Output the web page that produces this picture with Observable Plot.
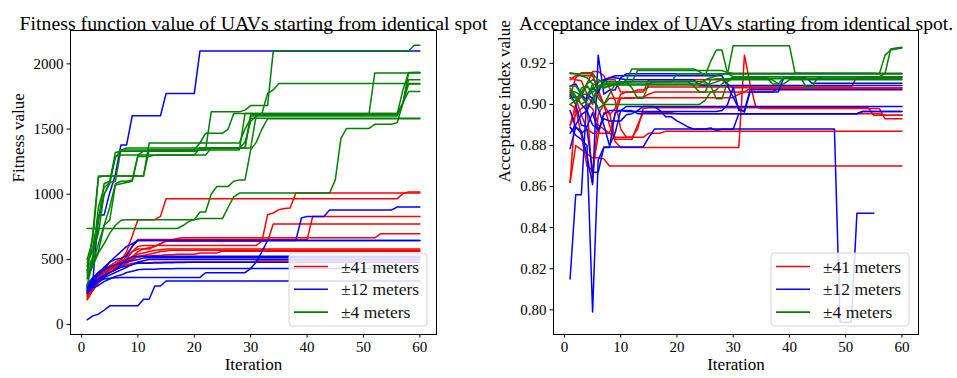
<!DOCTYPE html>
<html><head><meta charset="utf-8">
<script src="https://cdn.jsdelivr.net/npm/d3@7"></script>
<script src="https://cdn.jsdelivr.net/npm/@observablehq/plot@0.6"></script>
<style>
body{margin:0;background:#fff;}
#wrap{position:relative;width:957px;height:378px;display:flex;}
#wrap svg{overflow:visible;}
</style></head>
<body><div id="wrap"></div>
<script>
const iterations = [1,2,3,4,5,6,7,8,9,10,11,12,13,14,15,16,17,18,19,20,21,22,23,24,25,26,27,28,29,30,31,32,33,34,35,36,37,38,39,40,41,42,43,44,45,46,47,48,49,50,51,52,53,54,55,56,57,58,59,60];
const legendLabels = ["\u00b141 meters", "\u00b112 meters", "\u00b14 meters"];
const xTicks = [0,10,20,30,40,50,60];
const fitnessTicks = [0,500,1000,1500,2000];
const acceptTicks = [0.80,0.82,0.84,0.86,0.88,0.90,0.92];

// ---------- Fitness value (left) ----------
const fitness41 = [
[220,290,360,400,430,460,490,560,680,805, 805,805,805,830,966,966,966,966,966,966, 966,966,966,966,966,966,966,966,966,966, 966,966,966,966,966,966,966,966,966,966, 966,966,966,966,966,966,966,966,966,966, 966,966,966,966,966,966,1005,1017,1017,1017],
[250,330,390,420,440,460,480,520,560,600, 607,607,607,607,607,607,607,607,607,607, 607,607,607,607,607,607,607,607,607,607, 607,640,843,856,882,890,895,1009,1009,1009, 1009,1009,1009,1009,1009,1009,1009,1009,1009,1009, 1009,1009,1009,1009,1009,1009,1009,1009,1009,1009],
[230,300,360,410,450,480,500,540,600,652, 652,652,652,652,652,652,652,652,652,652, 652,652,652,652,652,652,652,652,652,652, 652,652,652,652,652,652,652,652,652,652, 830,830,830,830,830,830,830,830,830,830, 830,830,830,830,830,830,830,830,830,830],
[240,310,350,400,430,450,470,500,560,580, 580,590,600,620,640,640,640,640,640,640, 640,640,640,640,640,640,640,640,640,640, 640,640,640,772,772,772,772,772,772,772, 772,772,772,772,772,772,772,772,772,772, 772,772,772,772,772,772,772,772,772,772],
[200,270,330,380,420,440,460,480,520,560, 580,580,600,620,640,650,660,666,666,666, 666,666,666,666,666,666,666,666,666,666, 666,666,666,666,666,666,666,666,666,666, 666,666,666,666,666,666,666,666,666,666, 666,666,696,696,696,696,696,696,696,696],
[210,280,340,400,420,440,460,490,520,540, 550,560,570,575,580,580,580,580,580,580, 580,580,580,580,580,580,580,580,580,580, 580,580,580,580,580,580,580,580,580,580, 580,580,580,580,580,580,580,580,580,580, 580,580,580,580,580,580,580,580,580,580],
[190,260,320,360,400,430,450,470,500,520, 530,540,550,560,565,570,570,570,570,570, 570,570,570,570,570,570,570,570,570,570, 570,570,570,570,570,570,570,570,570,570, 570,570,570,570,570,570,570,570,570,570, 570,570,570,570,570,570,570,570,570,570],
[260,330,380,410,430,450,470,480,500,520, 525,525,530,530,535,535,540,540,540,540, 550,550,550,550,563,563,563,563,563,563, 563,563,563,563,563,563,563,563,563,563, 563,563,563,563,563,563,563,563,563,563, 563,563,563,563,563,563,563,563,563,563],
[240,310,360,400,420,440,450,460,470,475, 475,475,478,478,480,480,480,480,480,480, 480,480,480,480,480,480,480,480,480,480, 487,487,487,487,487,487,487,487,487,487, 487,487,487,487,487,487,487,487,487,487, 487,487,487,487,487,487,487,487,487,487],
[280,350,400,430,450,460,480,500,510,520, 520,520,520,520,520,520,520,520,520,520, 520,520,520,520,520,520,520,520,520,520, 520,520,520,520,520,520,520,520,520,520, 520,520,520,520,520,520,520,520,520,520, 520,520,520,520,520,520,520,520,520,520]
];
const fitness12 = [
[290,330,840,840,1010,1150,1378,1378,1602,1602, 1602,1602,1602,1602,1772,1772,1772,1772,1772,1772, 2098,2098,2098,2098,2098,2098,2098,2098,2098,2098, 2098,2098,2098,2098,2098,2098,2098,2098,2098,2098, 2098,2098,2098,2098,2098,2098,2098,2098,2098,2098, 2098,2098,2098,2098,2098,2098,2098,2098,2098,2098],
[37,67,80,110,144,144,144,144,144,144, 195,195,296,296,334,334,334,334,334,334, 334,334,334,334,334,334,334,334,334,334, 334,334,334,334,334,334,334,334,334,334, 334,334,334,334,334,334,334,334,334,334, 334,334,334,334,334,334,334,334,334,334],
[280,320,380,420,480,520,560,600,620,645, 645,645,645,645,645,645,645,645,645,645, 645,645,645,645,645,645,645,645,645,645, 645,645,645,645,645,645,645,645,818,830, 830,830,830,880,880,880,880,880,880,880, 880,880,880,880,880,902,902,902,902,902],
[300,340,400,440,480,500,510,525,600,645, 645,645,645,645,645,645,645,645,645,645, 645,645,645,645,645,645,645,645,645,645, 645,645,645,645,645,645,645,645,645,645, 645,645,645,645,645,645,645,645,645,645, 645,645,645,645,645,645,645,645,645,645],
[260,300,330,350,355,360,362,362,362,362, 362,362,362,362,362,362,362,362,362,362, 362,398,398,398,398,398,398,398,398,430, 480,560,645,645,645,645,645,645,645,645, 645,645,645,645,645,645,645,645,645,645, 645,645,645,645,645,645,645,645,645,645],
[270,310,350,380,400,420,460,500,520,525, 525,525,525,525,525,525,525,525,525,525, 525,525,525,525,525,525,525,525,525,525, 525,525,525,525,525,525,525,525,525,525, 525,525,525,525,525,525,525,525,525,525, 525,525,525,525,525,525,525,525,525,525],
[250,290,330,360,380,400,420,440,460,480, 490,500,500,500,500,500,500,500,500,500, 500,500,500,500,500,500,500,500,500,500, 500,500,500,500,500,500,500,500,500,500, 500,500,500,500,500,500,500,500,500,500, 500,500,500,500,500,500,500,500,500,500],
[290,320,350,370,400,420,440,450,460,470, 470,470,472,472,475,475,477,477,479,479, 479,479,479,479,479,479,479,479,479,479, 479,479,479,479,479,479,479,479,479,479, 479,479,479,479,479,479,479,479,479,479, 479,479,479,479,479,479,479,479,479,479],
[240,280,300,330,350,370,380,400,410,420, 425,425,425,428,428,428,430,430,430,430, 430,430,430,430,430,430,430,430,430,430, 430,430,430,430,430,430,430,430,430,430, 430,430,430,430,430,430,430,430,430,430, 430,430,430,430,430,430,430,430,430,430],
[310,360,400,420,440,460,470,480,490,500, 510,513,513,513,513,513,513,513,513,513, 513,513,513,513,513,513,513,513,513,513, 513,513,513,513,513,513,513,513,513,513, 513,513,513,513,513,513,513,513,513,513, 513,513,513,513,513,513,513,513,513,513]
];
const fitness4 = [
[480,560,700,1000,1090,1100,1340,1340,1340,1340, 1340,1340,1340,1340,1340,1340,1340,1340,1340,1340, 1340,1340,1632,1632,1632,1632,1632,1632,1645,1680, 1680,1680,1680,2098,2098,2098,2098,2098,2098,2098, 2098,2098,2098,2098,2098,2098,2098,2098,2098,2098, 2098,2098,2098,2098,2098,2098,2098,2098,2143,2143],
[400,700,1140,1140,1140,1140,1140,1140,1140,1140, 1140,1393,1393,1393,1393,1393,1393,1393,1393,1393, 1393,1467,1467,1467,1467,1500,1620,1620,1620,1620, 1620,1620,1620,1620,1620,1620,1620,1620,1620,1620, 1620,1620,1620,1620,1620,1620,1620,1620,1620,1620, 1620,1620,1620,1620,1620,1620,1800,1933,1933,1933],
[450,600,800,1080,1100,1290,1300,1300,1300,1300, 1300,1300,1300,1300,1300,1300,1300,1300,1300,1300, 1355,1355,1355,1355,1355,1355,1355,1355,1355,1610, 1610,1610,1610,1610,1610,1610,1610,1610,1610,1610, 1610,1610,1610,1610,1610,1610,1610,1610,1610,1610, 1620,1930,1930,1930,1930,1930,1930,1930,1930,1930],
[420,520,900,1050,1090,1320,1330,1330,1330,1330, 1330,1330,1330,1330,1330,1330,1330,1330,1330,1330, 1340,1350,1350,1350,1350,1350,1350,1350,1400,1560, 1600,1620,1773,1800,1849,1849,1849,1849,1849,1849, 1849,1849,1849,1849,1849,1849,1849,1849,1849,1849, 1849,1849,1849,1849,1849,1849,1849,1849,1849,1849],
[380,500,800,1000,1080,1280,1340,1355,1355,1355, 1355,1355,1355,1355,1355,1355,1355,1355,1355,1355, 1355,1355,1355,1355,1355,1355,1355,1355,1355,1600, 1600,1600,1600,1600,1600,1600,1600,1600,1600,1600, 1600,1600,1600,1600,1600,1600,1600,1600,1600,1600, 1600,1600,1600,1600,1600,1600,1700,1879,1879,1879],
[737,737,737,737,737,737,737,737,737,737, 737,737,737,737,737,737,737,760,790,805, 813,813,813,813,813,900,980,1009,1009,1009, 1009,1009,1009,1009,1009,1009,1009,1009,1009,1009, 1009,1009,1009,1009,1110,1429,1505,1505,1505,1505, 1505,1536,1536,1536,1536,1550,1700,1788,1788,1788],
[350,450,550,620,700,760,800,805,805,805, 805,805,805,805,805,805,805,805,805,805, 864,864,1000,1060,1060,1060,1100,1110,1110,1340, 1400,1500,1579,1579,1579,1579,1579,1579,1579,1579, 1579,1579,1579,1579,1579,1579,1579,1579,1579,1579, 1579,1579,1579,1579,1579,1579,1579,1579,1579,1579],
[500,650,1130,1140,1140,1140,1140,1140,1140,1140, 1140,1340,1340,1340,1340,1340,1340,1340,1340,1343, 1393,1393,1393,1393,1393,1393,1393,1393,1500,1582, 1582,1582,1582,1582,1582,1582,1582,1582,1582,1582, 1582,1582,1582,1582,1582,1582,1582,1582,1582,1582, 1582,1582,1582,1582,1582,1582,1582,1582,1582,1582],
[360,470,620,760,900,1080,1100,1100,1110,1300, 1330,1330,1330,1330,1330,1330,1330,1330,1330,1330, 1340,1340,1340,1340,1340,1340,1340,1340,1620,1620, 1620,1620,1620,1620,1620,1620,1620,1620,1620,1620, 1620,1620,1620,1620,1620,1620,1620,1620,1620,1620, 1620,1620,1620,1620,1620,1620,1700,1930,1933,1933],
[300,480,560,760,800,1070,1080,1090,1100,1290, 1290,1290,1300,1300,1300,1300,1300,1300,1300,1300, 1300,1300,1355,1355,1355,1355,1355,1355,1355,1355, 1610,1610,1610,1610,1610,1610,1610,1610,1610,1610, 1610,1610,1610,1610,1610,1610,1610,1610,1610,1610, 1610,1610,1610,1610,1610,1610,1700,1846,1846,1846]
];

// ---------- Acceptance index (right) ----------
const accept41 = [
[0.862,0.880,0.878,0.876,0.874,0.874,0.8735,0.870,0.870,0.870, 0.870,0.870,0.870,0.870,0.870,0.870,0.870,0.870,0.870,0.870, 0.870,0.870,0.870,0.870,0.870,0.870,0.870,0.870,0.870,0.870, 0.870,0.870,0.870,0.870,0.870,0.870,0.870,0.870,0.870,0.870, 0.870,0.870,0.870,0.870,0.870,0.870,0.870,0.870,0.870,0.870, 0.870,0.870,0.870,0.870,0.870,0.870,0.870,0.870,0.870,0.870],
[0.904,0.913,0.9154,0.9154,0.9154,0.905,0.900,0.890,0.882,0.879, 0.879,0.879,0.879,0.879,0.879,0.879,0.879,0.879,0.879,0.879, 0.879,0.879,0.879,0.879,0.879,0.879,0.879,0.879,0.879,0.879, 0.879,0.924,0.910,0.899,0.898,0.898,0.898,0.898,0.898,0.898, 0.898,0.898,0.898,0.898,0.898,0.898,0.898,0.898,0.898,0.898, 0.898,0.898,0.898,0.898,0.898,0.898,0.893,0.893,0.893,0.893],
[0.890,0.895,0.898,0.900,0.898,0.890,0.888,0.886,0.884,0.884, 0.884,0.884,0.884,0.884,0.886,0.886,0.886,0.887,0.887,0.887, 0.887,0.887,0.887,0.887,0.887,0.887,0.887,0.887,0.887,0.887, 0.887,0.887,0.887,0.887,0.887,0.887,0.887,0.887,0.887,0.887, 0.887,0.887,0.887,0.887,0.887,0.887,0.887,0.887,0.887,0.887, 0.887,0.887,0.887,0.887,0.887,0.887,0.887,0.887,0.887,0.887],
[0.912,0.914,0.914,0.914,0.914,0.907,0.900,0.895,0.898,0.905, 0.906,0.906,0.907,0.907,0.9085,0.9085,0.9085,0.9085,0.9085,0.9085, 0.9085,0.9085,0.9085,0.9085,0.9085,0.9085,0.9085,0.9085,0.9085,0.9085, 0.9085,0.9085,0.9085,0.9085,0.9085,0.9085,0.9085,0.9085,0.9085,0.9085, 0.9085,0.9085,0.9085,0.9085,0.9085,0.9085,0.9085,0.9085,0.9085,0.9085, 0.9085,0.9133,0.9133,0.9133,0.9133,0.9133,0.9133,0.9133,0.9133,0.9133],
[0.906,0.903,0.895,0.888,0.886,0.886,0.886,0.886,0.895,0.903, 0.9033,0.9033,0.9033,0.9033,0.9033,0.9033,0.9033,0.9033,0.9033,0.9033, 0.9033,0.9033,0.9033,0.9033,0.9033,0.9033,0.9033,0.9033,0.9033,0.9033, 0.905,0.906,0.9078,0.9078,0.9078,0.9078,0.9078,0.9078,0.9078,0.9078, 0.9078,0.9078,0.9078,0.9078,0.9078,0.9078,0.9078,0.9078,0.9078,0.9078, 0.9078,0.9078,0.9078,0.9078,0.9078,0.9078,0.9078,0.9078,0.9078,0.9078],
[0.900,0.898,0.885,0.870,0.868,0.885,0.896,0.896,0.883,0.883, 0.883,0.883,0.890,0.896,0.896,0.896,0.896,0.896,0.896,0.8955, 0.8955,0.8955,0.8955,0.8955,0.8955,0.8955,0.8955,0.8955,0.8955,0.8955, 0.8955,0.8955,0.8955,0.8955,0.8955,0.8955,0.8955,0.8955,0.8955,0.8955, 0.8955,0.8955,0.8955,0.8955,0.8955,0.8955,0.8955,0.8955,0.8955,0.8955, 0.8955,0.8955,0.8955,0.8955,0.8955,0.8955,0.8947,0.8947,0.8947,0.8947],
[0.862,0.900,0.905,0.900,0.862,0.895,0.900,0.903,0.903,0.903, 0.903,0.903,0.9035,0.9035,0.905,0.906,0.906,0.906,0.906,0.906, 0.906,0.906,0.906,0.906,0.906,0.906,0.906,0.906,0.906,0.906, 0.906,0.906,0.906,0.906,0.906,0.906,0.906,0.9081,0.9081,0.9081, 0.9081,0.9081,0.9081,0.9081,0.9081,0.9081,0.9081,0.9081,0.9081,0.9081, 0.9081,0.9081,0.9081,0.9081,0.9081,0.9081,0.9081,0.9081,0.9081,0.9081],
[0.913,0.912,0.9115,0.905,0.900,0.911,0.912,0.912,0.912,0.906, 0.906,0.906,0.906,0.906,0.912,0.912,0.912,0.912,0.912,0.912, 0.912,0.912,0.912,0.912,0.912,0.912,0.912,0.912,0.910,0.9081, 0.9081,0.9081,0.9081,0.9081,0.9081,0.9081,0.9081,0.9081,0.9081,0.9081, 0.9081,0.9081,0.9081,0.9081,0.9081,0.9081,0.9081,0.9081,0.9081,0.9081, 0.9081,0.9081,0.9081,0.9081,0.9081,0.9081,0.9081,0.9081,0.9081,0.9081],
[0.890,0.900,0.904,0.910,0.916,0.916,0.914,0.908,0.902,0.888, 0.884,0.884,0.888,0.898,0.8984,0.8984,0.8984,0.8984,0.8984,0.8984, 0.8984,0.8984,0.8984,0.8984,0.8984,0.8984,0.8984,0.8984,0.8984,0.8984, 0.8984,0.8984,0.8984,0.8984,0.8984,0.8984,0.8984,0.8984,0.8984,0.8984, 0.8984,0.8984,0.8984,0.8984,0.8984,0.8984,0.8984,0.8984,0.8984,0.8984, 0.8984,0.8984,0.8984,0.8984,0.8947,0.8947,0.8947,0.8947,0.8947,0.8947]
];
const accept12 = [
[0.8785,0.889,0.886,0.888,0.867,0.867,0.8793,0.8793,0.8793,0.8793, 0.8793,0.8793,0.8793,0.8793,0.884,0.888,0.888,0.888,0.888,0.888, 0.888,0.888,0.888,0.888,0.888,0.888,0.888,0.888,0.888,0.888, 0.888,0.888,0.888,0.888,0.888,0.888,0.888,0.888,0.888,0.888, 0.888,0.888,0.888,0.888,0.888,0.888,0.888,0.888,0.794,0.794, 0.794,0.847,0.847,0.847,0.847,null,null,null,null,null],
[0.897,0.889,0.887,0.875,0.861,0.924,0.905,0.907,0.907,0.913, 0.9149,0.9149,0.9149,0.9149,0.9149,0.9149,0.9149,0.9149,0.9149,0.9149, 0.9149,0.9149,0.9149,0.9149,0.9149,0.9149,0.9149,0.9149,0.9149,0.9149, 0.9149,0.9149,0.9149,0.9149,0.9149,0.9149,0.9149,0.9149,0.9149,0.9149, 0.9149,0.9149,0.9149,0.9149,0.9149,0.9149,0.9149,0.9149,0.9149,0.9149, 0.9149,0.9149,0.9149,0.9149,0.9149,0.9149,0.9149,0.9149,0.9149,0.9149],
[0.889,0.885,0.883,0.880,0.799,0.873,0.879,0.879,0.896,0.897, 0.897,0.897,0.8955,0.8955,0.8955,0.8955,0.8955,0.8955,0.8955,0.8955, 0.8955,0.8955,0.8955,0.8955,0.8955,0.8955,0.8955,0.8955,0.8955,0.8955, 0.8955,0.8955,0.8955,0.8955,0.8955,0.8955,0.8955,0.8955,0.8955,0.8955, 0.8955,0.8955,0.8955,0.8955,0.8955,0.8955,0.8955,0.8955,0.8955,0.8955, 0.8955,0.8955,0.8966,0.8966,0.8966,0.8966,0.8966,0.8966,0.8966,0.8966],
[0.815,0.856,0.856,0.905,0.903,0.898,0.890,0.880,0.886,0.897, 0.899,0.899,0.899,0.899,0.899,0.899,0.899,0.899,0.899,0.899, 0.899,0.899,0.899,0.899,0.899,0.899,0.899,0.899,0.899,0.899, 0.899,0.899,0.899,0.899,0.899,0.899,0.899,0.899,0.899,0.899, 0.899,0.899,0.899,0.899,0.899,0.899,0.899,0.899,0.899,0.899, 0.899,0.899,0.899,0.899,0.899,0.899,0.899,0.899,0.899,0.899],
[0.909,0.910,0.905,0.902,0.908,0.906,0.912,0.913,0.914,0.914, 0.914,0.914,0.914,0.914,0.914,0.914,0.914,0.914,0.914,0.914, 0.914,0.914,0.914,0.914,0.914,0.914,0.914,0.914,0.909,0.9035, 0.898,0.8963,0.906,0.906,0.906,0.906,0.906,0.906,0.913,0.913, 0.913,0.913,0.913,0.9103,0.9103,0.9103,0.9103,0.9103,0.9103,0.9103, 0.9103,0.9103,0.9103,0.9103,0.9103,0.9103,0.9103,0.9103,0.9103,0.9103],
[0.905,0.900,0.890,0.889,0.896,0.887,0.895,0.897,0.897,0.897, 0.8966,0.8966,0.8966,0.8966,0.8966,0.8966,0.8966,0.8966,0.8966,0.8966, 0.8966,0.8966,0.8966,0.8966,0.8966,0.8966,0.8966,0.897,0.900,0.9084, 0.897,0.897,0.9071,0.9071,0.9071,0.9071,0.9071,0.9071,0.9071,0.9071, 0.9071,0.9071,0.9071,0.9071,0.9071,0.9071,0.9071,0.9071,0.9071,0.9071, 0.9071,0.9071,0.9071,0.9071,0.9071,0.9071,0.9071,0.9071,0.9071,0.9071],
[0.903,0.904,0.900,0.897,0.903,0.906,0.911,0.913,0.913,0.9125, 0.912,0.912,0.912,0.912,0.912,0.912,0.912,0.912,0.912,0.912, 0.912,0.912,0.912,0.9092,0.9092,0.9092,0.9092,0.9092,0.9092,0.9092, 0.9092,0.9092,0.9092,0.9092,0.9092,0.9092,0.9092,0.9092,0.9092,0.9092, 0.9092,0.9092,0.9092,0.9092,0.9092,0.9092,0.9092,0.9092,0.9092,0.9092, 0.9092,0.9092,0.9092,0.9092,0.9092,0.9092,0.9092,0.9092,0.9092,0.9092],
[0.886,0.890,0.895,0.897,0.890,0.888,0.893,0.892,0.892,0.892, 0.895,0.8955,0.897,0.899,0.899,0.899,0.897,0.894,0.894,0.892, 0.8905,0.889,0.888,0.888,0.888,0.8885,0.8874,0.8879,0.8879,0.8879, 0.8955,0.8955,0.8955,0.8955,0.8955,0.8955,0.8955,0.8955,0.8955,0.8955, 0.8955,0.8955,0.8955,0.8955,0.8955,0.8955,0.8955,0.8955,0.8955,0.8955, 0.8955,0.8955,0.8966,0.8966,0.8966,0.8966,0.8966,0.8966,0.8966,0.8966]
];
const accept4 = [
[0.906,0.906,0.904,0.900,0.901,0.909,0.910,0.910,0.910,0.910, 0.910,0.910,0.910,0.910,0.910,0.910,0.910,0.910,0.910,0.910, 0.910,0.910,0.910,0.910,0.912,0.913,0.914,0.915,0.915,0.9286, 0.9286,0.9286,0.9286,0.9286,0.9286,0.9286,0.9286,0.9286,0.9286,0.9286, 0.9154,0.9152,0.9152,0.9152,0.9152,0.9152,0.9152,0.9152,0.9152,0.9152, 0.9152,0.9152,0.9152,0.9152,0.9152,0.915,0.924,0.9265,0.927,0.9275],
[0.915,0.915,0.914,0.913,0.910,0.903,0.900,0.905,0.910,0.910, 0.912,0.9173,0.9173,0.9173,0.9173,0.9173,0.9173,0.9173,0.9173,0.9173, 0.9173,0.9173,0.9173,0.916,0.914,0.921,0.9265,0.9265,0.915,0.9135, 0.9135,0.9135,0.9135,0.9135,0.9135,0.9135,0.9135,0.9135,0.9135,0.9135, 0.9135,0.9135,0.9135,0.9135,0.9135,0.9135,0.9135,0.9135,0.9135,0.9135, 0.9135,0.9135,0.9135,0.9135,0.9135,0.9135,0.915,0.927,0.9275,0.9278],
[0.904,0.900,0.908,0.909,0.905,0.898,0.900,0.900,0.900,0.900, 0.900,0.900,0.900,0.900,0.900,0.900,0.900,0.900,0.900,0.900, 0.900,0.900,0.900,0.900,0.902,0.906,0.907,0.910,0.912,0.9135, 0.9135,0.9135,0.9135,0.9135,0.9135,0.9135,0.9135,0.9135,0.9135,0.9135, 0.9135,0.9135,0.9135,0.9135,0.9135,0.9135,0.9135,0.9135,0.9135,0.9135, 0.9135,0.9135,0.9135,0.9135,0.9135,0.9135,0.9135,0.9135,0.9135,0.9135],
[0.909,0.909,0.905,0.905,0.908,0.909,0.910,0.910,0.910,0.910, 0.911,0.908,0.903,0.903,0.910,0.911,0.911,0.911,0.911,0.911, 0.911,0.911,0.909,0.906,0.906,0.912,0.9125,0.9125,0.9125,0.9125, 0.9125,0.9125,0.9125,0.9125,0.9125,0.9125,0.9125,0.9125,0.9125,0.9125, 0.9125,0.9125,0.9125,0.9125,0.9125,0.9125,0.9125,0.9125,0.9125,0.9125, 0.9125,0.9125,0.9125,0.9125,0.9125,0.9125,0.9125,0.9125,0.9125,0.9125],
[0.900,0.902,0.906,0.910,0.912,0.911,0.911,0.911,0.911,0.911, 0.911,0.911,0.911,0.911,0.911,0.911,0.911,0.911,0.911,0.911, 0.911,0.911,0.911,0.911,0.911,0.909,0.9028,0.9028,0.911,0.913, 0.913,0.913,0.913,0.913,0.913,0.913,0.910,0.910,0.913,0.913, 0.913,0.913,0.9084,0.9084,0.913,0.9135,0.9135,0.9135,0.9135,0.9135, 0.9135,0.9135,0.9135,0.9135,0.9135,0.9135,0.9135,0.9135,0.9135,0.9135],
[0.9154,0.915,0.915,0.915,0.915,0.912,0.911,0.911,0.911,0.911, 0.911,0.911,0.911,0.911,0.911,0.911,0.911,0.911,0.911,0.9149, 0.9149,0.9149,0.9149,0.9149,0.9149,0.9149,0.9149,0.9149,0.9149,0.9149, 0.9149,0.9149,0.9149,0.9149,0.9149,0.9149,0.9149,0.9149,0.9149,0.9149, 0.9149,0.9149,0.9149,0.9149,0.9149,0.9149,0.9149,0.9149,0.9149,0.9149, 0.9149,0.9149,0.9149,0.9149,0.9149,0.9149,0.9149,0.9149,0.9149,0.9149],
[0.908,0.904,0.900,0.902,0.910,0.909,0.908,0.909,0.910,0.911, 0.911,0.911,0.9165,0.9165,0.9165,0.9165,0.9165,0.9165,0.9165,0.9165, 0.9165,0.9165,0.9165,0.9165,0.9165,0.9165,0.9165,0.9165,0.9155,0.9152, 0.9152,0.9152,0.9152,0.9152,0.9152,0.9152,0.9152,0.9152,0.9152,0.9152, 0.9152,0.9152,0.9152,0.9152,0.9152,0.9152,0.9152,0.9152,0.9152,0.9152, 0.9152,0.9152,0.9152,0.9152,0.9152,0.9152,0.9152,0.9152,0.9152,0.9152],
[0.907,0.903,0.905,0.909,0.906,0.908,0.909,0.909,0.9095,0.9095, 0.9095,0.9095,0.9095,0.9095,0.9095,0.9095,0.9095,0.9095,0.9095,0.9095, 0.9095,0.9095,0.9095,0.9095,0.910,0.910,0.911,0.912,0.912,0.912, 0.912,0.912,0.912,0.912,0.912,0.912,0.912,0.910,0.910,0.912, 0.912,0.912,0.912,0.912,0.912,0.912,0.912,0.912,0.912,0.912, 0.912,0.912,0.912,0.912,0.912,0.912,0.912,0.912,0.912,0.912]
];

const colors = ["#ff0000", "#0000ff", "#008000"];
const FONT = "'Liberation Serif', serif";

function table(groups) {
  const rows = [];
  groups.forEach((group, g) => group.forEach((vals, k) => vals.forEach((v, j) => {
    if (v != null) rows.push({iteration: iterations[j], value: v, group: g, series: g + "-" + k});
  })));
  return rows;
}

function addLegend(svg, left, top) {
  const g = d3.select(svg).append("g").attr("transform", `translate(${left},${top})`);
  g.append("rect").attr("width", 138).attr("height", 73).attr("rx", 3.5)
    .attr("fill", "white").attr("fill-opacity", 0.85).attr("stroke", "#d3d3d3");
  legendLabels.forEach((lab, i) => {
    const y = 13.5 + i * 22.8;
    g.append("line").attr("x1", 5).attr("x2", 39).attr("y1", y).attr("y2", y)
      .attr("stroke", colors[i]).attr("stroke-width", 1.6);
    g.append("text").attr("x", 52).attr("y", y).attr("dy", "0.35em")
      .attr("text-anchor", "start")
      .style("font-family", FONT).style("font-size", "17.5px").attr("fill", "#111").text(lab);
  });
}

function panel({groups, yDomain, yTicks, yFormat, title, titleLength, ylabel, width, mLeft, mRight, ylabelDx, legendLeft}) {
  const data = table(groups);
  const svg = Plot.plot({
    width, height: 378,
    marginLeft: mLeft, marginRight: mRight, marginTop: 30, marginBottom: 44,
    style: {fontFamily: FONT, fontSize: "15px", color: "#000", background: "none", overflow: "visible"},
    x: {domain: [-1.95, 62.95]},
    y: {domain: yDomain},
    marks: [
      ...colors.map((c, g) => Plot.line(data.filter(d => d.group === g), {x: "iteration", y: "value", z: "series", stroke: c, strokeWidth: 1.5})),
      Plot.frame({stroke: "#000", strokeWidth: 1}),
      Plot.axisX({ticks: xTicks, tickSize: 3.5, tickPadding: 3.5, label: null, tickFormat: d => String(d)}),
      Plot.axisY({ticks: yTicks, tickSize: 3.5, tickPadding: 3.5, label: null, tickFormat: yFormat}),
      Plot.text([title], {frameAnchor: "top", dy: -13, fontSize: 18, text: d => d}),
      Plot.text(["Iteration"], {frameAnchor: "bottom", dy: 35, fontSize: 17, text: d => d}),
      Plot.text([ylabel], {frameAnchor: "left", dx: ylabelDx, rotate: -90, fontSize: 17, text: d => d})
    ]
  });
  d3.select(svg).selectAll("text").filter(function() { return this.textContent === title; })
    .attr("textLength", titleLength).attr("lengthAdjust", "spacingAndGlyphs");
  addLegend(svg, legendLeft, 253);
  return svg;
}

const wrap = document.getElementById("wrap");
wrap.append(panel({groups: [fitness41, fitness12, fitness4], yDomain: [-76, 2256], yTicks: fitnessTicks, yFormat: d => String(d),
  title: "Fitness function value of UAVs starting from identical spot", titleLength: 468, ylabel: "Fitness value",
  width: 478, mLeft: 70, mRight: 42, ylabelDx: -52, legendLeft: 289}));
wrap.append(panel({groups: [accept41, accept12, accept4], yDomain: [0.788, 0.936], yTicks: acceptTicks, yFormat: d3.format(".2f"),
  title: "Acceptance index of UAVs starting from identical spot.", titleLength: 434, ylabel: "Acceptance index value",
  width: 479, mLeft: 75, mRight: 39, ylabelDx: -49, legendLeft: 771 - 478}));
</script></body></html>
